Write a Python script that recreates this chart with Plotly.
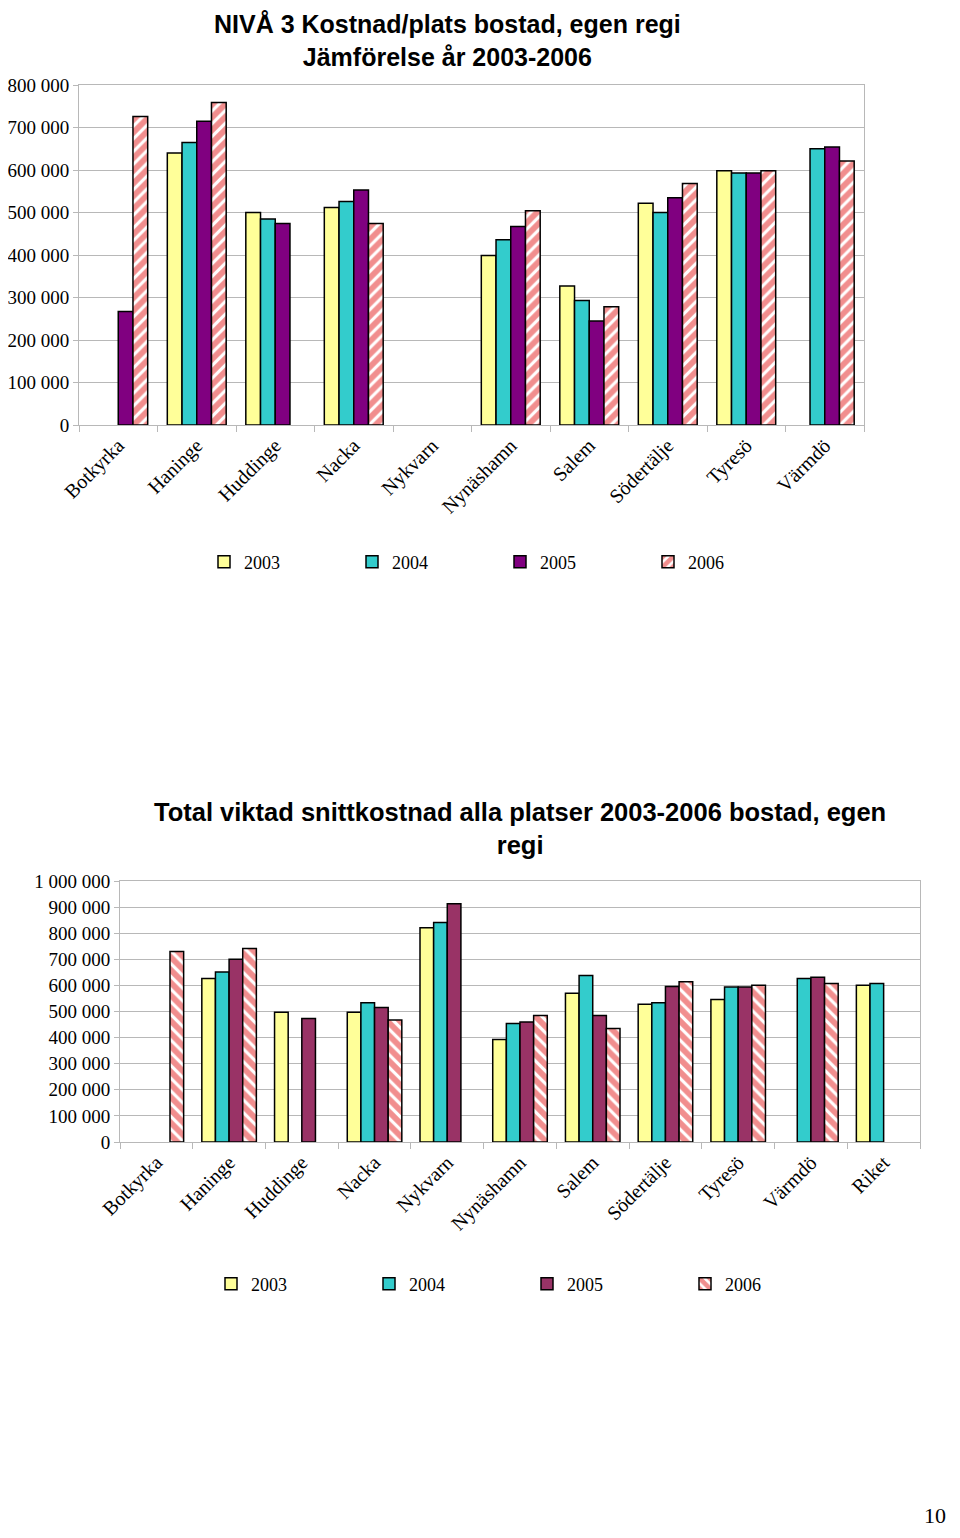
import plotly.graph_objects as go

years = ["2003", "2004", "2005", "2006"]

cats1 = ["Botkyrka", "Haninge", "Huddinge", "Nacka", "Nykvarn", "Nynäshamn",
         "Salem", "Södertälje", "Tyresö", "Värmdö"]
c1_2003 = [None, 640000, 500000, 512000, None, 399000, 327000, 522000, 598000, None]
c1_2004 = [None, 665000, 485000, 526000, None, 436000, 293000, 500000, 593000, 650000]
c1_2005 = [267000, 715000, 474000, 553000, None, 467000, 245000, 535000, 593000, 654000]
c1_2006 = [726000, 759000, None, 474000, None, 504000, 278000, 568000, 598000, 621000]

cats2 = ["Botkyrka", "Haninge", "Huddinge", "Nacka", "Nykvarn", "Nynäshamn",
         "Salem", "Södertälje", "Tyresö", "Värmdö", "Riket"]
c2_2003 = [None, 626000, 497000, 497000, 821000, 393000, 570000, 528000, 546000, None, 601000]
c2_2004 = [None, 651000, None, 534000, 841000, 454000, 638000, 534000, 594000, 626000, 607000]
c2_2005 = [None, 700000, 473000, 515000, 913000, 460000, 485000, 596000, 594000, 631000, None]
c2_2006 = [730000, 741000, None, 467000, None, 485000, 435000, 614000, 601000, 607000, None]

title1 = ["NIVÅ 3 Kostnad/plats bostad, egen regi", "Jämförelse år 2003-2006"]
title2 = ["Total viktad snittkostnad alla platser 2003-2006 bostad, egen", "regi"]
page_no = "10"

# the page body has an 8px margin on every side, so the figure is sized to fit inside it
OFF = 8
W, H = 960 - 2 * OFF, 1538 - 2 * OFF
SERIF = "Liberation Serif, Times New Roman, serif"
SANS = "Liberation Sans, Arial, sans-serif"
GRID = "#b8b8b8"
RED = "#e41e1e"

fig = go.Figure()

def add_series(cats, vals, name, color, xa, ya, leg, pattern=None):
    marker = dict(color=color, line=dict(color="black", width=1.5))
    if pattern:
        marker = dict(color="white", line=dict(color="black", width=1.5),
                      pattern=dict(shape=pattern, fgcolor=RED, bgcolor="white",
                                   size=9, solidity=0.65, fillmode="overlay"))
    fig.add_trace(go.Bar(x=cats, y=vals, name=name, marker=marker,
                         xaxis=xa, yaxis=ya, legend=leg))

add_series(cats1, c1_2003, years[0], "#ffff99", "x", "y", "legend")
add_series(cats1, c1_2004, years[1], "#33cccc", "x", "y", "legend")
add_series(cats1, c1_2005, years[2], "#800080", "x", "y", "legend")
add_series(cats1, c1_2006, years[3], "white", "x", "y", "legend", pattern="/")

add_series(cats2, c2_2003, years[0], "#ffff99", "x2", "y2", "legend2")
add_series(cats2, c2_2004, years[1], "#33cccc", "x2", "y2", "legend2")
add_series(cats2, c2_2005, years[2], "#993366", "x2", "y2", "legend2")
add_series(cats2, c2_2006, years[3], "white", "x2", "y2", "legend2", pattern="\\")

def px_x(p):
    return (p - OFF) / W

def px_y(p):
    return 1 - (p - OFF) / H

xcommon = dict(type="category", tickangle=-45, showline=True, mirror=True, linecolor=GRID,
               linewidth=1, ticks="outside", tickson="boundaries", ticklen=6, tickcolor=GRID,
               showgrid=False, automargin=False,
               tickfont=dict(family=SERIF, size=20, color="black"))
ycommon = dict(showline=True, mirror=True, linecolor=GRID, linewidth=1, ticks="outside",
               ticklen=5, tickcolor=GRID, showgrid=True, gridcolor=GRID, gridwidth=1,
               tickformat=",d", zeroline=False, automargin=False,
               tickfont=dict(family=SERIF, size=19, color="black"))

def bold_lines(lines):
    return "<br>".join("<b>" + s + "</b>" for s in lines)

def ann(text, x, y, size, family=SANS, xanchor="center", yanchor="middle"):
    return dict(text=text, x=x, y=y, xref="paper", yref="paper", showarrow=False,
                xanchor=xanchor, yanchor=yanchor,
                font=dict(family=family, size=size, color="black"))

fig.update_layout(
    width=W, height=H,
    margin=dict(l=0, r=0, t=0, b=0, autoexpand=False),
    paper_bgcolor="white", plot_bgcolor="white",
    separators=", ",
    barmode="group", bargap=0.25, bargroupgap=0,
    xaxis=dict(xcommon, domain=[px_x(79), px_x(864)], anchor="y",
               categoryorder="array", categoryarray=cats1),
    yaxis=dict(ycommon, domain=[px_y(425), px_y(85)], anchor="x", range=[0, 800000],
               dtick=100000),
    xaxis2=dict(xcommon, domain=[px_x(120), px_x(920)], anchor="y2",
                categoryorder="array", categoryarray=cats2),
    yaxis2=dict(ycommon, domain=[px_y(1142), px_y(881)], anchor="x2", range=[0, 1000000],
                dtick=100000),
    legend=dict(orientation="h", x=px_x(204), y=px_y(562), xanchor="left", yanchor="middle",
                entrywidth=103, entrywidthmode="pixels", itemwidth=30,
                font=dict(family=SERIF, size=18, color="black"), bgcolor="rgba(0,0,0,0)"),
    legend2=dict(orientation="h", x=px_x(211), y=px_y(1284), xanchor="left", yanchor="middle",
                 entrywidth=113, entrywidthmode="pixels", itemwidth=30,
                 font=dict(family=SERIF, size=18, color="black"), bgcolor="rgba(0,0,0,0)"),
    showlegend=True,
    annotations=[
        ann(bold_lines(title1), px_x(447), 1.0, 25, yanchor="top"),
        ann(bold_lines(title2), px_x(520), px_y(828), 25.5),
        ann(page_no, px_x(948), px_y(1515), 22, family=SERIF, xanchor="right"),
    ],
)

fig.write_html("out.html")
